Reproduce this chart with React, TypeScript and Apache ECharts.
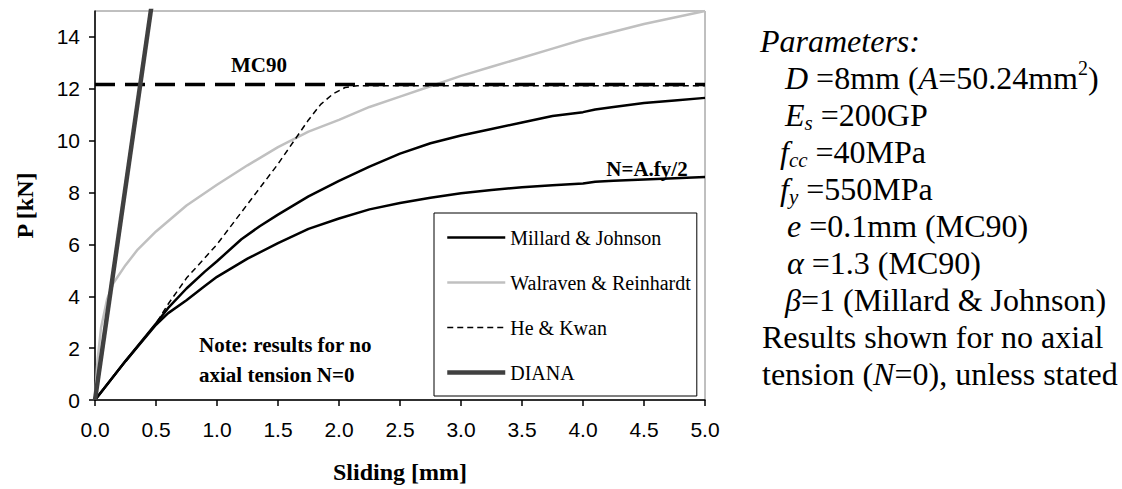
import React, { useEffect, useRef } from 'react';
import * as echarts from 'echarts';

// Millard & Johnson, no axial tension (N = 0)
const mjSlip = [0, 0.25, 0.5, 0.6, 0.75, 0.9, 1.0, 1.2, 1.35, 1.5, 1.75, 2.0, 2.25, 2.5, 2.75, 3.0, 3.25, 3.5, 3.75, 4.0, 4.1, 4.25, 4.5, 4.75, 5.0];
const mjLoad = [0, 1.5, 2.95, 3.55, 4.3, 4.95, 5.35, 6.2, 6.7, 7.15, 7.85, 8.45, 9.0, 9.5, 9.9, 10.2, 10.45, 10.7, 10.95, 11.1, 11.2, 11.3, 11.45, 11.55, 11.65];

// Millard & Johnson with axial tension N = A.fy/2
const mjHalfSlip = [0, 0.25, 0.5, 0.6, 0.75, 0.9, 1.0, 1.25, 1.5, 1.75, 2.0, 2.25, 2.5, 2.75, 3.0, 3.25, 3.5, 3.75, 4.0, 4.1, 4.25, 4.5, 4.75, 5.0];
const mjHalfLoad = [0, 1.5, 2.9, 3.35, 3.85, 4.4, 4.75, 5.45, 6.05, 6.6, 7.0, 7.35, 7.6, 7.8, 7.97, 8.1, 8.2, 8.28, 8.35, 8.42, 8.45, 8.5, 8.55, 8.6];

// Walraven & Reinhardt
const wrSlip = [0, 0.02, 0.05, 0.1, 0.15, 0.25, 0.35, 0.5, 0.75, 1.0, 1.25, 1.5, 1.75, 2.0, 2.25, 2.5, 2.75, 3.0, 3.25, 3.5, 3.75, 4.0, 4.25, 4.5, 4.75, 5.0];
const wrLoad = [0, 1.5, 2.8, 3.9, 4.5, 5.2, 5.8, 6.5, 7.5, 8.3, 9.05, 9.75, 10.35, 10.8, 11.3, 11.7, 12.1, 12.5, 12.85, 13.2, 13.55, 13.9, 14.2, 14.5, 14.75, 15.0];

// He & Kwan
const hkSlip = [0, 0.25, 0.5, 0.6, 0.75, 1.0, 1.25, 1.5, 1.75, 1.85, 1.95, 2.05, 2.15, 5.0];
const hkLoad = [0, 1.5, 2.95, 3.7, 4.7, 6.0, 7.55, 9.1, 10.8, 11.4, 11.8, 12.05, 12.12, 12.12];

// DIANA (linear, runs off the top of the plot)
const dianaSlip = [0, 0.5];
const dianaLoad = [0, 16.4];

// MC90 limit
const mc90Slip = [0, 5];
const mc90Load = [12.17, 12.17];

const yTicks = [0, 2, 4, 6, 8, 10, 12, 14];

const legendNames = ['Millard & Johnson', 'Walraven & Reinhardt', 'He & Kwan', 'DIANA'];

const paramLines = [
  '{i|Parameters:}',
  '{i|D} =8mm ({i|A}=50.24mm{sup|2})',
  '{i|E}{sub|s} =200GP',
  '{i|f}{sub|cc} =40MPa',
  '{i|f}{sub|y} =550MPa',
  '{i|e} =0.1mm (MC90)',
  '{i|α} =1.3 (MC90)',
  '{i|β}=1 (Millard & Johnson)',
  'Results shown for no axial',
  'tension ({i|N}=0), unless stated',
];
const paramIndent = [760, 785, 785, 780, 780, 787, 787, 785, 762, 762];

const noteLines = ['Note: results for no', 'axial tension N=0'];

const pairs = (xs: number[], ys: number[]) => xs.map((x, i) => [x, ys[i]]);

const SERIF = '"Liberation Serif", "Times New Roman", serif';
const SANS = '"Liberation Sans", Arial, sans-serif';

export default function App() {
  const ref = useRef<HTMLDivElement>(null);

  useEffect(() => {
    const chart = echarts.init(ref.current!, null, { renderer: 'svg' });

    const rich = {
      i: { fontFamily: SERIF, fontSize: 32, fontStyle: 'italic', fill: '#000' },
      sub: { fontFamily: SERIF, fontSize: 21, fontStyle: 'italic', fill: '#000', padding: [16, 0, 0, 0] },
      sup: { fontFamily: SERIF, fontSize: 20, fill: '#000', padding: [0, 0, 20, 0] },
    };

    const paramText = paramLines.map((line, k) => ({
      type: 'text',
      x: paramIndent[k],
      y: 41 + k * 37,
      style: {
        text: line,
        fontFamily: SERIF,
        fontSize: 32,
        fill: '#000',
        textAlign: 'left',
        textVerticalAlign: 'middle',
        rich,
      },
    }));

    const noteText = noteLines.map((line, k) => ({
      type: 'text',
      x: 199,
      y: 345 + k * 30,
      style: {
        text: line,
        fontFamily: SERIF,
        fontSize: 21,
        fontWeight: 'bold',
        fill: '#000',
        textAlign: 'left',
        textVerticalAlign: 'middle',
      },
    }));

    const lineSeries = (name: string, xs: number[], ys: number[], color: string, width: number, type: any = 'solid') => ({
      name,
      type: 'line',
      data: pairs(xs, ys),
      symbol: 'none',
      clip: true,
      lineStyle: { color, width, type },
      itemStyle: { color },
    });

    const option = {
      animation: false,
      backgroundColor: '#fff',
      grid: {
        left: 95,
        right: 417,
        top: 11,
        bottom: 89,
        show: true,
        borderColor: '#808080',
        borderWidth: 1,
        backgroundColor: 'transparent',
      },
      legend: {
        data: legendNames,
        orient: 'vertical',
        left: 434,
        top: 213,
        itemWidth: 58,
        itemHeight: 23,
        itemGap: 22,
        padding: [13, 6, 12, 11],
        borderColor: '#000',
        borderWidth: 1,
        backgroundColor: '#fff',
        selectedMode: false,
        itemStyle: { opacity: 0 },
        lineStyle: { width: 'inherit' },
        textStyle: { fontFamily: SERIF, fontSize: 20, color: '#000', lineHeight: 23 },
      },
      xAxis: {
        type: 'value',
        min: 0,
        max: 5,
        interval: 0.5,
        name: 'Sliding [mm]',
        nameLocation: 'middle',
        nameGap: 60,
        nameTextStyle: { fontFamily: SERIF, fontSize: 24, fontWeight: 'bold', color: '#000' },
        axisLine: { lineStyle: { color: '#000', width: 1.5 } },
        axisTick: { show: true, inside: false, length: 6, lineStyle: { color: '#000', width: 1.5 } },
        axisLabel: {
          margin: 19,
          fontFamily: SANS,
          fontSize: 21,
          color: '#000',
          formatter: (v: number) => v.toFixed(1),
        },
        splitLine: { show: false },
      },
      yAxis: {
        type: 'value',
        min: 0,
        max: 15,
        interval: 2,
        name: 'P [kN]',
        nameLocation: 'middle',
        nameRotate: 90,
        nameGap: 58,
        nameTextStyle: { fontFamily: SERIF, fontSize: 24, fontWeight: 'bold', color: '#000' },
        axisLine: { show: true, lineStyle: { color: '#000', width: 1.5 } },
        axisTick: { show: true, inside: false, length: 6, customValues: yTicks, lineStyle: { color: '#000', width: 1.5 } },
        axisLabel: {
          margin: 15,
          fontFamily: SANS,
          fontSize: 21,
          color: '#000',
          customValues: yTicks,
        },
        splitLine: { show: false },
      },
      series: [
        lineSeries('Walraven & Reinhardt', wrSlip, wrLoad, '#c0c0c0', 2.5),
        lineSeries('Millard & Johnson', mjSlip, mjLoad, '#000', 2.5),
        lineSeries('Millard & Johnson', mjHalfSlip, mjHalfLoad, '#000', 2.5),
        lineSeries('MC90', mc90Slip, mc90Load, '#000', 3.5, [20, 10]),
        lineSeries('He & Kwan', hkSlip, hkLoad, '#000', 1.5, [6, 4]),
        lineSeries('DIANA', dianaSlip, dianaLoad, '#404040', 4.5),
      ],
      graphic: [
        {
          type: 'text',
          x: 259,
          y: 65,
          style: {
            text: 'MC90',
            fontFamily: SERIF,
            fontSize: 21,
            fontWeight: 'bold',
            fill: '#000',
            textAlign: 'center',
            textVerticalAlign: 'middle',
          },
        },
        {
          type: 'text',
          x: 647,
          y: 169,
          style: {
            text: 'N=A.fy/2',
            fontFamily: SERIF,
            fontSize: 21,
            fontWeight: 'bold',
            fill: '#000',
            textAlign: 'center',
            textVerticalAlign: 'middle',
          },
        },
        ...noteText,
        ...paramText,
      ],
    };

    chart.setOption(option as any);
    return () => chart.dispose();
  }, []);

  return (
    <div
      ref={ref}
      style={{ position: 'fixed', left: 0, top: 0, width: 1122, height: 489, background: '#fff' }}
    />
  );
}
